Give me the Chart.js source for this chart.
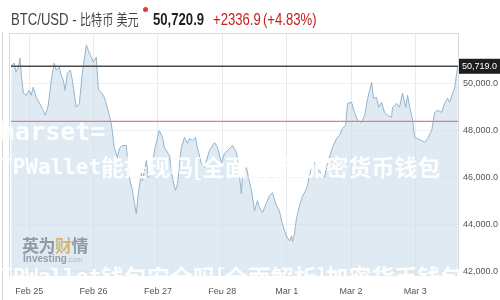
<!DOCTYPE html>
<html>
<head>
<meta charset="utf-8">
<script src="https://cdn.jsdelivr.net/npm/chart.js@4.4.1/dist/chart.umd.min.js"></script>
<style>
  body { margin: 0; background: #fff; }
  #wrap { position: relative; width: 500px; height: 300px; overflow: hidden; background: #fff; }
  #chartCanvas { position: absolute; left: 0; top: 0; }
  .hd { position: absolute; top: 12px; font: 16px "Liberation Sans", "Noto Sans CJK SC", sans-serif; line-height: 16px; white-space: nowrap; transform: scaleX(0.82); transform-origin: 0 0; }
  .wm { position: absolute; color: rgba(255,255,255,0.92); font-weight: bold; white-space: nowrap; pointer-events: none; }
  .mono { font-family: "DejaVu Sans Mono", monospace; }
  .cjk { font-family: "Noto Sans CJK SC", sans-serif; }
</style>
</head>
<body>
<div id="wrap">
  <canvas id="chartCanvas" width="500" height="300"></canvas>
  <div style="position:absolute;left:2px;top:32px;width:1px;height:268px;background:#d6d6d6"></div>

  <!-- header -->
  <div class="hd" style="left:11px;color:#444">BTC/USD -</div>
  <div class="hd" style="left:80px;color:#444;font-size:15px;transform:scaleX(0.74)">比特币 美元</div>
  <div style="position:absolute;left:143px;top:7px;width:5px;height:5px;border-radius:50%;background:#e23a3a"></div>
  <div class="hd" style="left:153px;color:#1f1f1f;font-weight:bold">50,720.9</div>
  <div class="hd" style="left:213px;color:#c9211e">+2336.9</div>
  <div class="hd" style="left:263px;color:#c9211e">(+4.83%)</div>

  <!-- logo -->
  <div style="position:absolute;left:22px;top:236px;font:bold 17px 'Noto Sans CJK SC',sans-serif;line-height:17px;color:#7f8c98;letter-spacing:-0.5px;opacity:0.85">英为<span style="color:#cfae5e">财</span>情</div>
  <div style="position:absolute;left:23px;top:254px;font:bold 10px 'Liberation Sans',sans-serif;line-height:10px;color:#85919c;opacity:0.85">Investing<span style="font-weight:normal;font-size:7px;color:#a3adb5">.com</span></div>

  <!-- watermark text -->
  <div class="wm mono" style="left:-15px;top:119px;font-size:25px;line-height:25px">charset=</div>
  <div class="wm mono" style="left:0px;top:157px;font-size:21px;line-height:21px">TPWallet</div>
  <div class="wm cjk" style="left:101px;top:155px;font-size:23px;line-height:23px">能提现吗[全面解析]加密货币钱包</div>
  <div class="wm mono" style="left:0px;top:267px;font-size:21px;line-height:21px">TPWallet</div>
  <div class="wm cjk" style="left:101px;top:265px;font-size:23px;line-height:23px">钱包安全吗[全面解析]加密货币钱包</div>
</div>

<script>
// hours from Feb 25 00:00
const hours = [
  -6.7, -5.6, -4.9, -4.1, -3.4, -3.0, -2.2, -1.1, 0, 0.7,
  1.5, 2.6, 3.7, 4.9, 6.0, 7.1, 8.2, 9.3, 10.1, 11.2,
  11.9, 12.7, 13.4, 14.2, 15.3, 16.1, 17.5, 18.7, 19.8, 21.3,
  22.0, 23.1, 23.9, 25.0, 25.4, 25.8, 26.9, 28.0, 29.1, 30.6,
  31.7, 32.9, 33.6, 34.7, 36.2, 36.6, 37.3, 38.5, 39.9, 40.7,
  41.8, 42.2, 43.7, 44.4, 45.5, 46.7, 48.5, 49.7, 50.4, 52.3,
  53.4, 54.5, 55.3, 56.7, 57.9, 59.0, 59.7, 60.9, 62.0, 62.7,
  64.2, 65.3, 67.2, 69.1, 70.2, 71.7, 72.8, 74.7, 75.8, 77.3,
  78.0, 79.1, 79.5, 81.0, 81.8, 82.9, 84.0, 85.1, 85.9, 87.0,
  88.5, 89.6, 90.7, 92.2, 93.3, 94.1, 95.2, 96.3, 97.1, 97.8,
  98.2, 98.9, 99.7, 100.8, 101.9, 103.0, 103.8, 104.5, 105.3, 106.4,
  107.5, 109.0, 110.1, 111.2, 113.1, 114.6, 115.7, 116.8, 118.0, 118.7,
  120.2, 121.3, 122.4, 123.9, 125.1, 126.2, 127.7, 128.4, 129.5, 130.3,
  131.4, 132.5, 133.6, 135.1, 135.5, 137.0, 138.1, 139.2, 140.4, 141.1,
  141.9, 143.0, 143.7, 144.8, 146.3, 147.5, 148.6, 150.1, 151.2, 152.3,
  153.8, 154.9, 156.0, 156.8, 157.9, 158.7, 159.4, 159.8
];

const prices = [
  50766, 50851, 50468, 50681, 51064, 50426, 49575, 49489, 49702, 49489,
  49830, 49404, 49192, 48936, 48638, 49064, 50128, 50851, 50553, 50681,
  50340, 50128, 49702, 50426, 50553, 50128, 48979, 49149, 50426, 51617,
  51404, 51106, 50894, 51106, 50426, 49702, 49617, 49404, 48979, 48298,
  47277, 46851, 47234, 47362, 47362, 46851, 46000, 45447, 44468, 45319,
  46213, 45873, 46724, 46000, 46170, 47149, 48000, 47702, 47277, 46936,
  46000, 45447, 45745, 47277, 47702, 47447, 47660, 47575, 47702, 47277,
  46596, 46426, 47149, 47490, 47277, 46639, 47022, 47234, 47362, 47064,
  46511, 45319, 46000, 46426, 46000, 45447, 44596, 45022, 44724, 44511,
  44937, 45234, 45362, 44809, 44596, 44171, 43745, 43447, 43320, 43532,
  43277, 43617, 44298, 44809, 45192, 45447, 45660, 46085, 46426, 46639,
  46383, 46170, 46000, 46596, 47277, 47660, 47787, 48085, 48213, 49149,
  49192, 48766, 48426, 48341, 48638, 49362, 50043, 49362, 49404, 48979,
  49192, 48766, 48638, 48553, 48979, 49149, 48979, 49575, 48979, 49489,
  48979, 48426, 47702, 47660, 47575, 47490, 47660, 48000, 48766, 48851,
  48766, 49149, 49362, 49192, 49575, 49830, 50426, 50720.9
];

const dayTicks = [0, 24, 48, 72, 96, 120, 144];
const dateLabels = ["Feb 25", "Feb 26", "Feb 27", "Feb 28", "Mar 1", "Mar 2", "Mar 3"];
const priceTicks = [42000, 44000, 46000, 48000, 50000];

const lastLine = 50719.0;   // dark line with black label
const prevClose = 48384;    // red line

const xMin = -6.8, xMax = 159.9;
const yMin = 41830, yMax = 52130;

const fmt = (v) => v.toLocaleString("en-US", { minimumFractionDigits: 1, maximumFractionDigits: 1 });

const frame = {
  id: "frame",
  beforeDatasetsDraw(chart) {
    const { ctx, chartArea: a } = chart;
    ctx.save();
    ctx.strokeStyle = "#d9d9d9";
    ctx.lineWidth = 1;
    ctx.beginPath();
    ctx.moveTo(a.left - 1.5, a.bottom);
    ctx.lineTo(a.left - 1.5, a.top + 0.5);
    ctx.lineTo(a.right, a.top + 0.5);
    ctx.stroke();
    ctx.restore();
  },
  afterDatasetsDraw(chart) {
    const { ctx, chartArea: a } = chart;
    const y = chart.scales.y.getPixelForValue(lastLine);
    ctx.save();
    ctx.fillStyle = "#1e1e1e";
    ctx.fillRect(a.right + 1, y - 7.5, 42, 15);
    ctx.fillStyle = "#fff";
    ctx.font = "9px 'Liberation Sans', sans-serif";
    ctx.textBaseline = "middle";
    ctx.textAlign = "left";
    ctx.fillText(fmt(lastLine), a.right + 4, y + 0.5);
    ctx.restore();
  }
};

new Chart(document.getElementById("chartCanvas").getContext("2d"), {
  type: "line",
  data: {
    datasets: [
      {
        data: hours.map((h, i) => ({ x: h, y: prices[i] })),
        borderColor: "#94b4cc",
        borderWidth: 1,
        backgroundColor: "rgba(205,221,234,0.62)",
        fill: "start",
        pointRadius: 0,
        tension: 0,
        order: 2
      },
      {
        data: [{ x: xMin, y: prevClose }, { x: xMax, y: prevClose }],
        borderColor: "#dc7f8a",
        borderWidth: 1.3,
        pointRadius: 0,
        fill: false,
        order: 1
      },
      {
        data: [{ x: xMin, y: lastLine }, { x: xMax, y: lastLine }],
        borderColor: "#4a4a4a",
        borderWidth: 1.4,
        pointRadius: 0,
        fill: false,
        order: 0
      }
    ]
  },
  options: {
    responsive: false,
    animation: false,
    devicePixelRatio: 1,
    layout: { padding: { top: 33, left: 11, right: 0, bottom: 0 } },
    plugins: { legend: { display: false }, tooltip: { enabled: false } },
    scales: {
      x: {
        type: "linear",
        min: xMin,
        max: xMax,
        afterBuildTicks: (s) => { s.ticks = dayTicks.map((v) => ({ value: v })); },
        afterFit: (s) => { s.height = 24; },
        grid: { color: "#e6ebef", drawTicks: false },
        border: { display: false },
        ticks: {
          padding: 10,
          autoSkip: false,
          maxRotation: 0,
          color: "#555",
          font: { family: "'Liberation Sans', sans-serif", size: 9 },
          callback: (v) => dateLabels[dayTicks.indexOf(v)]
        }
      },
      y: {
        position: "right",
        min: yMin,
        max: yMax,
        afterBuildTicks: (s) => { s.ticks = priceTicks.map((v) => ({ value: v })); },
        afterFit: (s) => { s.width = 42; },
        grid: { color: "#eef1f4", drawTicks: false },
        border: { color: "#d9d9d9" },
        ticks: {
          padding: 5,
          color: "#555",
          font: { family: "'Liberation Sans', sans-serif", size: 9 },
          callback: (v) => fmt(v)
        }
      }
    }
  },
  plugins: [frame]
});
</script>
</body>
</html>
